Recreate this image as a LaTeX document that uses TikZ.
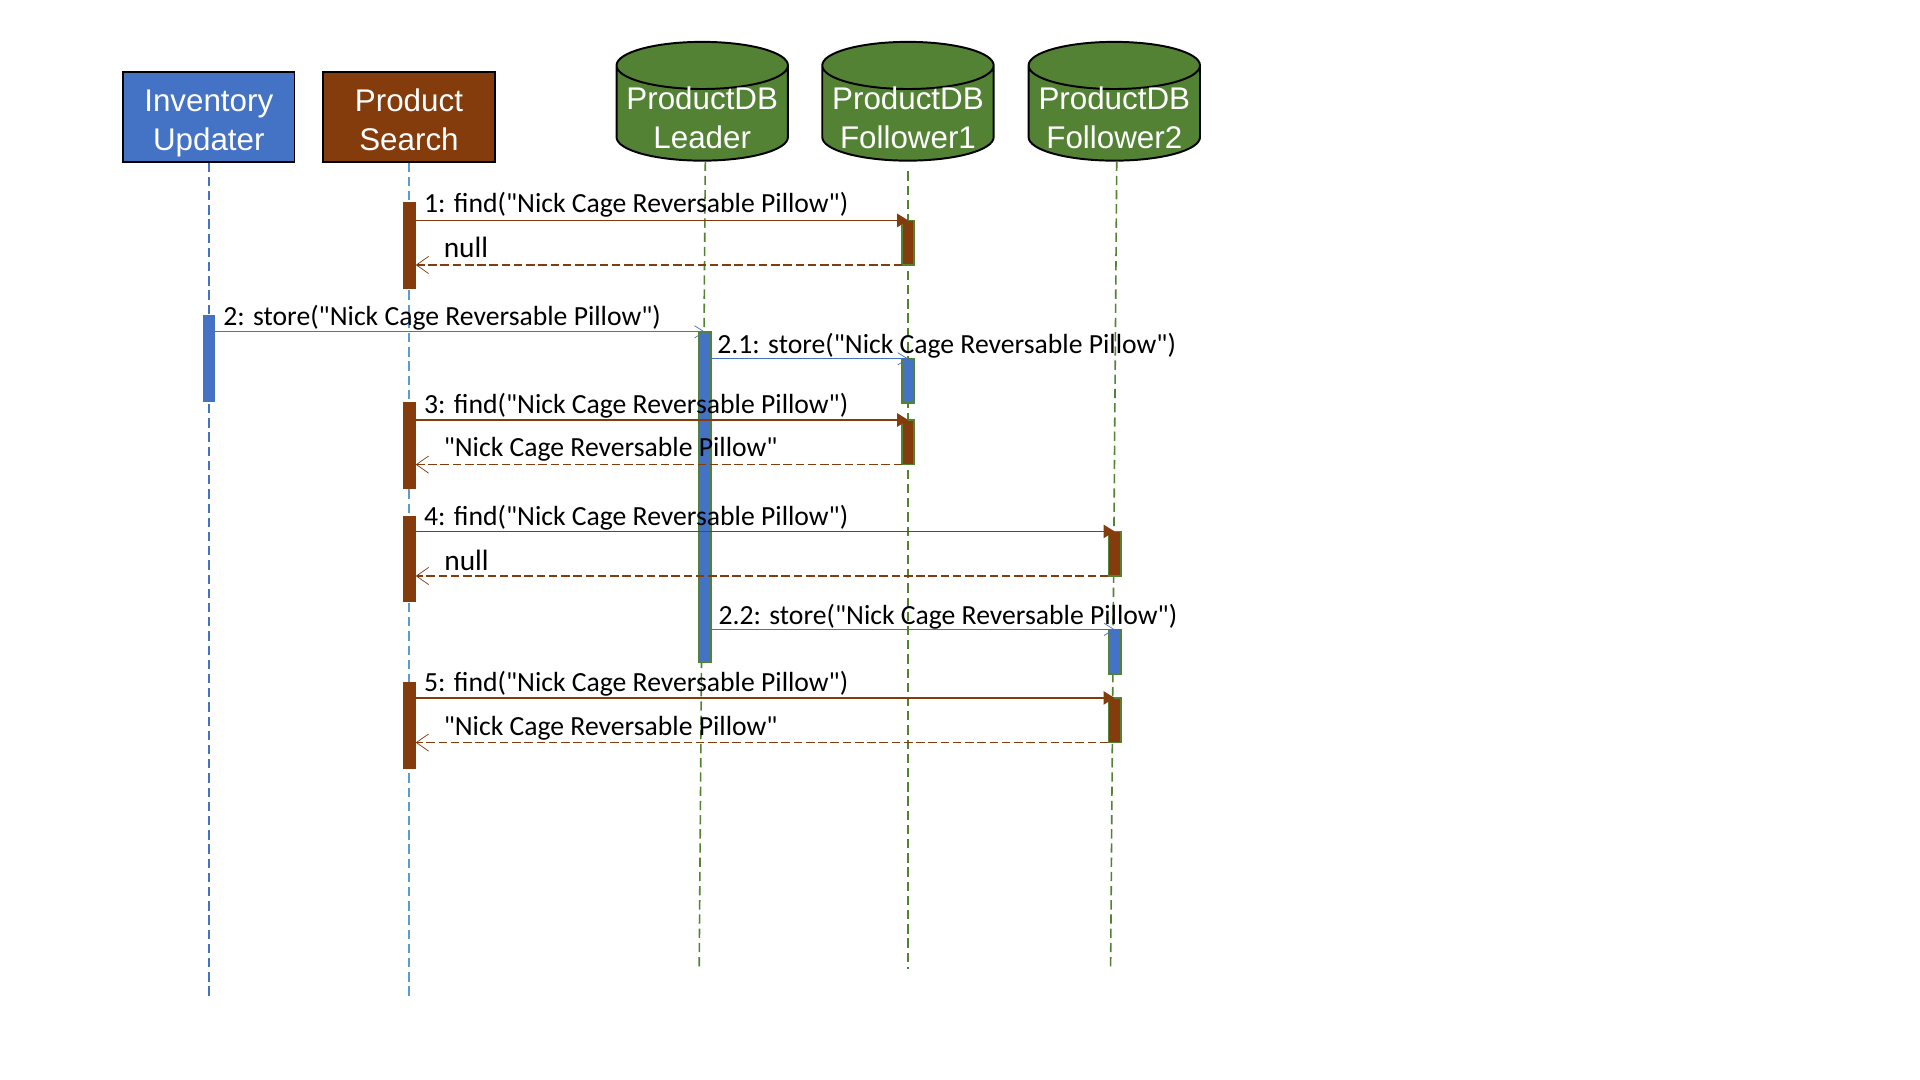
\documentclass[tikz,border=0pt]{standalone}
\usepackage{fontspec}
\newfontfamily\msgfont{Carlito}
\newfontfamily\headfont{Liberation Sans}
\usetikzlibrary{arrows.meta,shapes.geometric}
\definecolor{blueC}{HTML}{4472C4}
\definecolor{brownC}{HTML}{843C0C}
\definecolor{greenC}{HTML}{548235}
\definecolor{lineC}{HTML}{5B9BD5}
% two centred lines that take no room in their node
\newcommand{\headlines}[3]{\raisebox{#1}[0pt][0pt]{\parbox{70pt}{\centering #2\strut\\#3\strut}}}
\tikzset{
  actor/.style={draw=black,line width=0.8pt,minimum width=70pt,minimum height=36.5pt,inner sep=0pt,
    text=white,font=\headfont\fontsize{12.8}{16}\selectfont},
  dbase/.style={cylinder,shape border rotate=90,aspect=0.275,draw=black,line width=0.8pt,fill=greenC,
    cylinder uses custom fill,cylinder body fill=greenC,cylinder end fill=greenC,
    anchor=south,minimum width=70pt,minimum height=48.5pt,inner sep=0pt,
    text=white,font=\headfont\fontsize{12.8}{16}\selectfont},
  life/.style={dash pattern=on 3.8pt off 2pt,line width=0.65pt},
  barbase/.style={rectangle,anchor=north,minimum width=5pt,inner sep=0pt,outer sep=0pt},
  msglabel/.style={anchor=west,inner sep=0pt,font=\msgfont\fontsize{11.3}{13}\selectfont},
  nulllabel/.style={anchor=west,inner sep=0pt,font=\msgfont\fontsize{12}{14}\selectfont},
  callfill/.style={brownC,line width=0.45pt,-{Triangle[length=4.5pt,width=5.5pt]}},
  callopen/.style={blueC,line width=0.45pt,-{Straight Barb[length=4pt,width=5pt,line width=0.3pt]}},
  reply/.style={brownC,line width=0.45pt,dash pattern=on 3.5pt off 1.5pt,-{Straight Barb[length=5pt,width=7pt,line width=0.3pt]}}
}
\begin{document}
\begin{tikzpicture}[x=0.5pt,y=-0.5pt]
  \useasboundingbox (0,0) rectangle (1568,882);
  % heads
  \node[actor,fill=blueC] (inv) at (170.5,95.5) {\headlines{-5.5pt}{Inventory}{Updater}};
  \node[actor,fill=brownC] (search) at (334,95.5) {\headlines{-5.5pt}{Product}{Search}};
  \node[dbase] (leader) at (573.5,132) {\headlines{-6.25pt}{ProductDB}{Leader}};
  \node[dbase] (followA) at (741.5,132) {\headlines{-6.25pt}{ProductDB}{Follower1}};
  \node[dbase] (followB) at (910,132) {\headlines{-6.25pt}{ProductDB}{Follower2}};
  % lifelines
  \coordinate (invEnd) at (170.5,814);
  \coordinate (searchEnd) at (334,814);
  \coordinate (leaderTop) at (576,132);
  \coordinate (leaderEnd) at (571,791);
  \coordinate (followATop) at (741.5,140);
  \coordinate (followAEnd) at (741.5,791);
  \coordinate (followBTop) at (912,132);
  \coordinate (followBEnd) at (907,791);
  \draw[life,blueC] (inv.south) -- (invEnd);
  \draw[life,lineC] (search.south) -- (searchEnd);
  \draw[life,greenC] (leaderTop) -- (leaderEnd);
  \draw[life,greenC] (followATop) -- (followAEnd);
  \draw[life,greenC] (followBTop) -- (followBEnd);
  % activation bars
  \foreach \nm/\ypos in {searchA/165,searchB/328,searchC/421,searchD/557}
    \node[barbase,fill=brownC,minimum height=35.5pt] (\nm) at (334.5,\ypos) {};
  \node[barbase,fill=blueC,minimum height=35.5pt] (invA) at (170.5,257) {};
  \node[barbase,fill=blueC,draw=greenC,line width=0.7pt,minimum height=135pt] (leaderA) at (575.7,271) {};
  \foreach \nm/\xpos/\ypos/\col in {fA1/741.7/180/brownC,fA2/741.7/293/blueC,fA3/741.7/343/brownC,
      fB1/910.2/434/brownC,fB2/910.2/514/blueC,fB3/910.2/570/brownC}
    \node[barbase,fill=\col,draw=greenC,line width=0.7pt,minimum height=18.2pt] (\nm) at (\xpos,\ypos) {};
  % messages
  \draw[callfill] (searchA.east |- fA1.north) -- (fA1.north);
  \draw[reply] (fA1.south west) -- (searchA.east |- fA1.south);
  \draw[callopen] (invA.east |- leaderA.north) -- (leaderA.north);
  \draw[callopen] (leaderA.east |- fA2.north) -- (fA2.north);
  \draw[callfill] (searchB.east |- fA3.north) -- (fA3.north);
  \draw[reply] (fA3.south west) -- (searchB.east |- fA3.south);
  \draw[callfill] (searchC.east |- fB1.north) -- (fB1.north);
  \draw[reply] (fB1.south west) -- (searchC.east |- fB1.south);
  \draw[callopen] (leaderA.east |- fB2.north) -- (fB2.north);
  \draw[callfill] (searchD.east |- fB3.north) -- (fB3.north);
  \draw[reply] (fB3.south west) -- (searchD.east |- fB3.south);
  % labels
  \node[msglabel] (msgA) at (346,167) {1: find("Nick Cage Reversable Pillow")};
  \node[nulllabel] (retA) at (362,202) {null};
  \node[msglabel] (msgB) at (182,259.5) {2: store("Nick Cage Reversable Pillow")};
  \node[msglabel] (msgC) at (585.5,282.5) {2.1: store("Nick Cage Reversable Pillow")};
  \node[msglabel] (msgD) at (346,331) {3: find("Nick Cage Reversable Pillow")};
  \node[msglabel] (retB) at (362,367) {"Nick Cage Reversable Pillow"};
  \node[msglabel] (msgE) at (346,423) {4: find("Nick Cage Reversable Pillow")};
  \node[nulllabel] (retC) at (362.5,458) {null};
  \node[msglabel] (msgF) at (586.5,504) {2.2: store("Nick Cage Reversable Pillow")};
  \node[msglabel] (msgG) at (346,558.5) {5: find("Nick Cage Reversable Pillow")};
  \node[msglabel] (retD) at (362,594.5) {"Nick Cage Reversable Pillow"};
\end{tikzpicture}
\end{document}
